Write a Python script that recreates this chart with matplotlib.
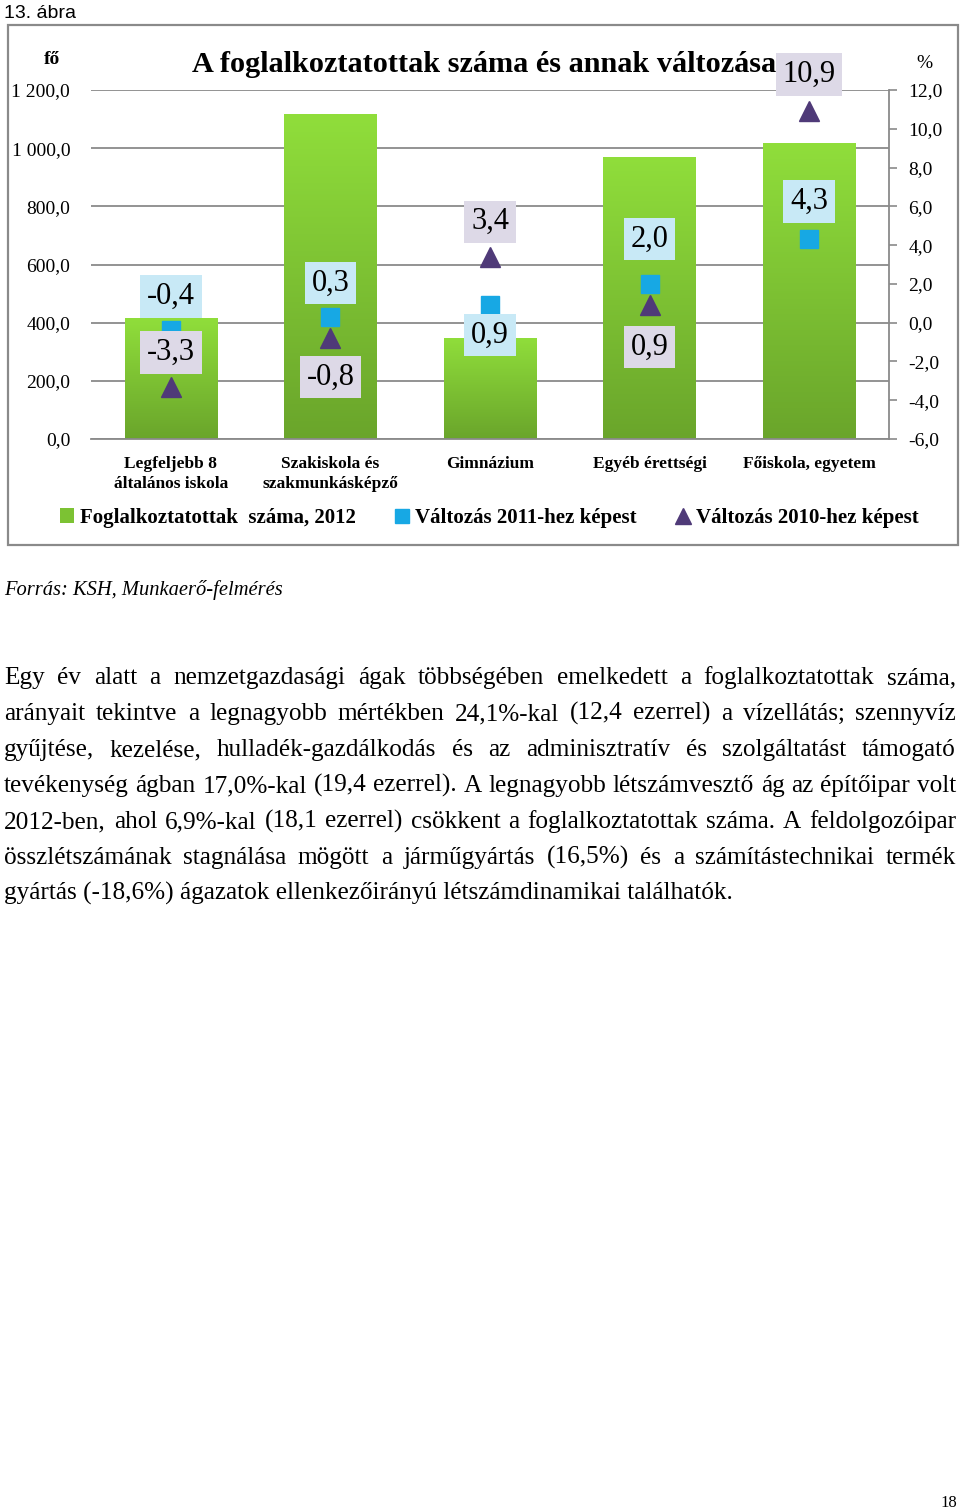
import matplotlib
matplotlib.use("Agg")
import matplotlib.pyplot as plt
import numpy as np
from matplotlib.colors import LinearSegmentedColormap
from matplotlib.lines import Line2D
from matplotlib.patches import Patch, Rectangle
from matplotlib.ticker import FuncFormatter

# Data
categories = ["Legfeljebb 8\náltalános iskola", "Szakiskola és\nszakmunkásképző",
              "Gimnázium", "Egyéb érettségi", "Főiskola, egyetem"]
employed_2012 = [416, 1116, 348, 971, 1017]      # fő (ezer)
change_2011 = [-0.4, 0.3, 0.9, 2.0, 4.3]         # %
change_2010 = [-3.3, -0.8, 3.4, 0.9, 10.9]       # %

series_names = ["Foglalkoztatottak  száma, 2012", "Változás 2011-hez képest",
                "Változás 2010-hez képest"]

# label offsets (pixels, + is up) for the data labels
off_2011 = [34, 34, -30, 45, 38]
off_2010 = [34, -39, 35, -42, 37]

W, H = 960, 1509
SERIF = "Liberation Serif"
GREY = "#8a8a8a"

fig = plt.figure(figsize=(W / 100, H / 100), dpi=100)
fig.patch.set_facecolor("white")


def fx(px):
    return px / W


def fy(py):
    return 1 - py / H


# outer frame of the chart
fig.patches.append(Rectangle((fx(8), fy(545)), fx(950), 520 / H, transform=fig.transFigure,
                             fill=False, edgecolor=GREY, linewidth=1.6))

ax = fig.add_axes([fx(91), fy(439), fx(798), 349 / H])
x = np.arange(len(categories))

bars = ax.bar(x, employed_2012, width=0.58, color="#7cc233", zorder=2)
cmap = LinearSegmentedColormap.from_list("g", ["#6aa52b", "#90de3b"])
grad = np.linspace(0, 1, 256).reshape(-1, 1)
for b in bars:
    im = ax.imshow(grad, cmap=cmap, origin="lower", aspect="auto", zorder=2.1,
                   extent=[b.get_x(), b.get_x() + b.get_width(), 0, b.get_height()])
    im.set_clip_path(b)

ax.set_xlim(-0.5, len(categories) - 0.5)
ax.set_ylim(0, 1200)
ax.set_yticks(np.arange(0, 1201, 200))
ax.yaxis.set_major_formatter(FuncFormatter(
    lambda v, p: f"{v:,.1f}".replace(",", " ").replace(".", ",")))
ax.set_axisbelow(True)
ax.grid(axis="y", color=GREY, linewidth=1.3)
for s in ["left", "top", "right"]:
    ax.spines[s].set_visible(False)
ax.spines["bottom"].set_color(GREY)
ax.spines["bottom"].set_linewidth(1.3)
ax.tick_params(axis="y", length=0, pad=15, labelsize=14)
ax.tick_params(axis="x", length=0, pad=12)
ax.set_xticks(x)
ax.set_xticklabels(categories, fontsize=12.5, fontweight="bold", family=SERIF, linespacing=1.4)
for t in ax.get_yticklabels():
    t.set_family(SERIF)

ax2 = ax.twinx()
ax2.set_ylim(-6, 12)
ax2.set_yticks(np.arange(-6, 12.1, 2))
ax2.yaxis.set_major_formatter(FuncFormatter(lambda v, p: f"{v:.1f}".replace(".", ",")))
for s in ["left", "top", "bottom"]:
    ax2.spines[s].set_visible(False)
ax2.spines["right"].set_color(GREY)
ax2.spines["right"].set_linewidth(1.3)
ax2.tick_params(axis="y", direction="out", length=6, width=1.2, color=GREY, pad=8, labelsize=14)
for t in ax2.get_yticklabels():
    t.set_family(SERIF)

ax2.plot(x, change_2011, linestyle="none", marker="s", markersize=13,
         color="#17a8e4", markeredgecolor="#17a8e4", zorder=3)
ax2.plot(x, change_2010, linestyle="none", marker="^", markersize=14,
         color="#4f3a78", markeredgecolor="#4f3a78", zorder=3)


def lab(v):
    return f"{v:.1f}".replace(".", ",")


for xi, v, o in zip(x, change_2011, off_2011):
    ax2.annotate(lab(v), (xi, v), xytext=(0, o * 0.72), textcoords="offset points",
                 ha="center", va="center", fontsize=22, family=SERIF, zorder=4,
                 bbox=dict(boxstyle="square,pad=0.22", facecolor="#c8e9f6", edgecolor="none"))
for xi, v, o in zip(x, change_2010, off_2010):
    ax2.annotate(lab(v), (xi, v), xytext=(0, o * 0.72), textcoords="offset points",
                 ha="center", va="center", fontsize=22, family=SERIF, zorder=4,
                 bbox=dict(boxstyle="square,pad=0.22", facecolor="#ddd9e7", edgecolor="none"))

# legend
handles = [Patch(facecolor="#7cc233", edgecolor="none"),
           Line2D([], [], linestyle="none", marker="s", markersize=10, color="#17a8e4"),
           Line2D([], [], linestyle="none", marker="^", markersize=11, color="#4f3a78")]
fig.legend(handles, series_names, loc="center left", bbox_to_anchor=(fx(60), fy(518)),
           ncol=3, frameon=False, borderpad=0, borderaxespad=0, handlelength=0.65,
           handletextpad=0.3, columnspacing=1.9,
           prop={"family": SERIF, "weight": "bold", "size": 15})

# chart texts
fig.text(fx(484), fy(72), "A foglalkoztatottak száma és annak változása", ha="center",
         va="baseline", fontsize=21.8, fontweight="bold", family=SERIF)
fig.text(fx(52), fy(64), "fő", ha="center", va="baseline", fontsize=14, fontweight="bold",
         family=SERIF)
fig.text(fx(924), fy(68), "%", ha="center", va="baseline", fontsize=14, family=SERIF)

# page texts
fig.text(fx(4), fy(18), "13. ábra", ha="left", va="baseline", fontsize=14,
         family="Liberation Sans")
fig.text(fx(4), fy(595), "Forrás: KSH, Munkaerő-felmérés", ha="left", va="baseline",
         fontsize=14.8, style="italic", family=SERIF)
fig.text(fx(957), fy(1507), "18", ha="right", va="baseline", fontsize=12, family=SERIF)

body = [
    "Egy év alatt a nemzetgazdasági ágak többségében emelkedett a foglalkoztatottak száma,",
    "arányait tekintve a legnagyobb mértékben 24,1%-kal (12,4 ezerrel) a vízellátás; szennyvíz",
    "gyűjtése, kezelése, hulladék-gazdálkodás és az adminisztratív és szolgáltatást támogató",
    "tevékenység ágban 17,0%-kal (19,4 ezerrel). A legnagyobb létszámvesztő ág az építőipar volt",
    "2012-ben, ahol 6,9%-kal (18,1 ezerrel) csökkent a foglalkoztatottak száma. A feldolgozóipar",
    "összlétszámának stagnálása mögött a járműgyártás (16,5%) és a számítástechnikai termék",
    "gyártás (-18,6%) ágazatok ellenkezőirányú létszámdinamikai találhatók.",
]

renderer = fig.canvas.get_renderer()
x0, x1 = 4, 956
for i, line in enumerate(body):
    yb = fy(684 + 36 * i)
    kw = dict(va="baseline", ha="left", fontsize=18.2, family=SERIF)
    if i == len(body) - 1:
        fig.text(fx(x0), yb, line, **kw)
        continue
    words = line.split()
    widths = []
    for w in words:
        t = fig.text(0, 0, w, **kw)
        widths.append(t.get_window_extent(renderer).width)
        t.remove()
    gap = (x1 - x0 - sum(widths)) / (len(words) - 1)
    pos = x0
    for w, wd in zip(words, widths):
        fig.text(fx(pos), yb, w, **kw)
        pos += wd + gap

fig.savefig("out.png", dpi=100)
